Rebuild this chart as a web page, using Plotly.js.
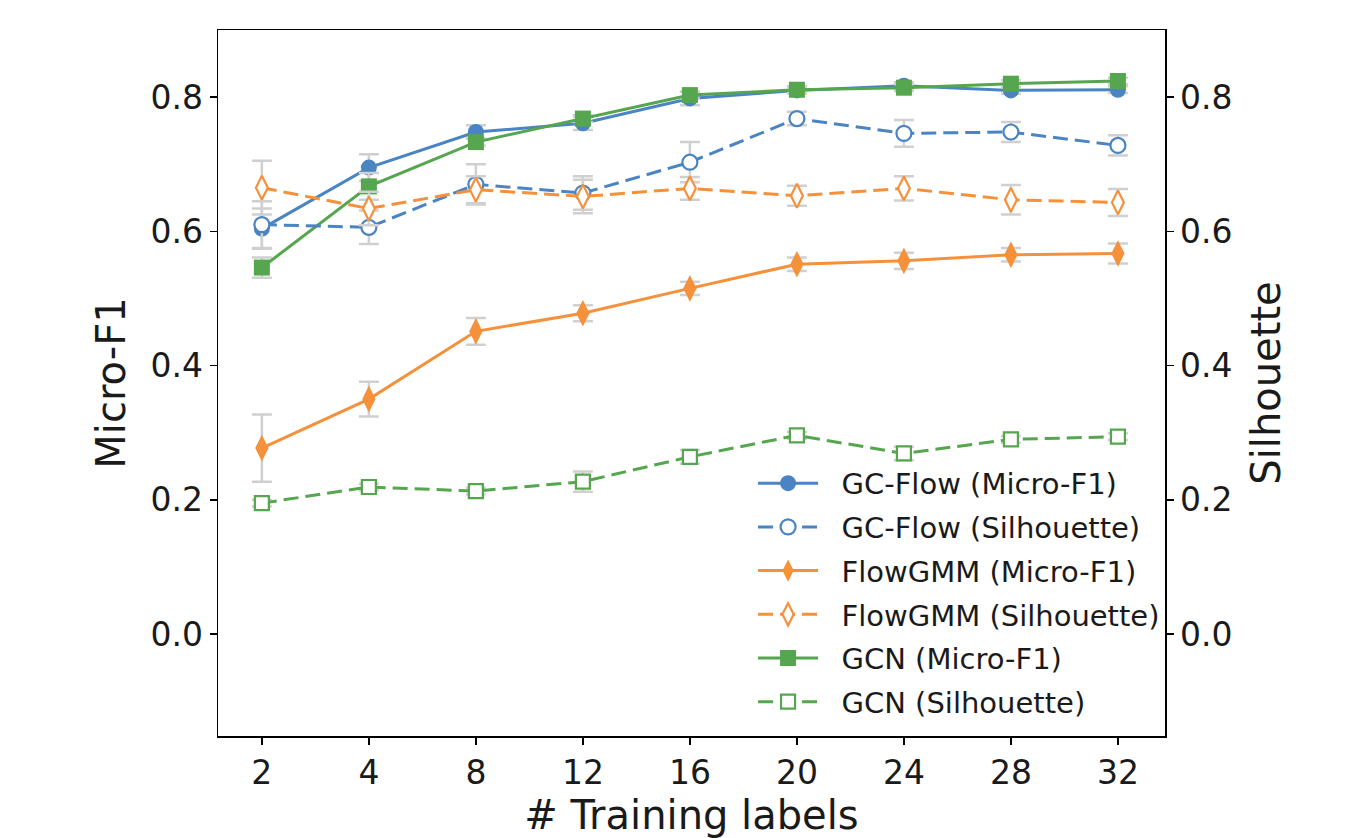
<!DOCTYPE html>
<html>
<head>
<meta charset="utf-8">
<script src="https://cdn.plot.ly/plotly-3.0.1.min.js"></script>
<style>html,body{margin:0;padding:0;background:#fff;}#chart{width:1356px;height:838px;}</style>
</head>
<body>
<div id="chart"></div>
<script>
const labels = ["2","4","8","12","16","20","24","28","32"];

const gcflowF1 = [0.604, 0.695, 0.748, 0.761, 0.798, 0.810, 0.817, 0.810, 0.811];
const gcflowF1Err = [0.03, 0.02, 0.01, 0.01, 0.01, 0.005, 0.005, 0.005, 0.005];
const gcflowSil = [0.610, 0.606, 0.670, 0.657, 0.703, 0.768, 0.746, 0.748, 0.728];
const gcflowSilErr = [0.035, 0.025, 0.03, 0.025, 0.03, 0.01, 0.02, 0.015, 0.015];

const flowgmmF1 = [0.277, 0.350, 0.451, 0.478, 0.515, 0.551, 0.556, 0.565, 0.567];
const flowgmmF1Err = [0.05, 0.026, 0.02, 0.012, 0.01, 0.01, 0.012, 0.01, 0.015];
const flowgmmSil = [0.665, 0.634, 0.662, 0.652, 0.664, 0.653, 0.664, 0.647, 0.643];
const flowgmmSilErr = [0.04, 0.025, 0.02, 0.025, 0.017, 0.015, 0.018, 0.022, 0.02];

const gcnF1 = [0.546, 0.667, 0.733, 0.768, 0.803, 0.811, 0.814, 0.820, 0.824];
const gcnF1Err = [0.015, 0.02, 0.005, 0.005, 0.005, 0.005, 0.005, 0.005, 0.005];
const gcnSil = [0.195, 0.219, 0.213, 0.227, 0.264, 0.296, 0.269, 0.290, 0.294];
const gcnSilErr = [0.005, 0.005, 0.005, 0.015, 0.01, 0.005, 0.01, 0.005, 0.005];

const BLUE = "#4a84c2", ORANGE = "#f5903b", GREEN = "#55a64f", ERR = "#d0d0d0";
const PAD = "\u00a0\u00a0";

function tr(name, y, err, color, symbol, open, dashed, axis, size) {
  return {
    type: "scatter", mode: "lines+markers", name: PAD + name, legendgroup: name,
    x: labels, y: y, yaxis: axis,
    line: {color: color, width: 3, dash: dashed ? "15px,7px" : "solid"},
    marker: {symbol: symbol, size: size, color: open ? "#ffffff" : color,
             line: {color: color, width: open ? 2.2 : 0}},
    error_y: {type: "data", array: err, visible: true, color: ERR, thickness: 2.5, width: 10}
  };
}

const data = [
  tr("GC-Flow (Micro-F1)", gcflowF1, gcflowF1Err, BLUE, "circle", false, false, "y", 16),
  tr("GC-Flow (Silhouette)", gcflowSil, gcflowSilErr, BLUE, "circle", true, true, "y2", 15),
  tr("FlowGMM (Micro-F1)", flowgmmF1, flowgmmF1Err, ORANGE, "diamond-tall", false, false, "y", 19),
  tr("FlowGMM (Silhouette)", flowgmmSil, flowgmmSilErr, ORANGE, "diamond-tall", true, true, "y2", 17),
  tr("GCN (Micro-F1)", gcnF1, gcnF1Err, GREEN, "square", false, false, "y", 16),
  tr("GCN (Silhouette)", gcnSil, gcnSilErr, GREEN, "square", true, true, "y2", 14)
];

const FONT = "DejaVu Sans, sans-serif";
const yTicks = [0, 0.2, 0.4, 0.6, 0.8];
const yTickText = ["0.0", "0.2", "0.4", "0.6", "0.8"];

const axisCommon = {
  showgrid: false, zeroline: false, showline: true, linecolor: "#000", linewidth: 1.5,
  ticks: "outside", ticklen: 7, tickwidth: 1.5, tickcolor: "#000",
  tickfont: {family: FONT, size: 33, color: "#1a1a1a"}
};

const layout = {
  width: 1356, height: 838,
  margin: {l: 218, r: 191, t: 30, b: 102},
  paper_bgcolor: "#fff", plot_bgcolor: "#fff",
  font: {family: FONT, color: "#1a1a1a"},
  showlegend: true,
  xaxis: Object.assign({}, axisCommon, {
    type: "category", range: [-0.41, 8.44], mirror: true,
    title: {text: "# Training labels", font: {family: FONT, size: 40, color: "#1a1a1a"}, standoff: 4}
  }),
  yaxis: Object.assign({}, axisCommon, {
    range: [-0.152, 0.9], tickvals: yTicks, ticktext: yTickText, mirror: true,
    title: {text: "Micro-F1", font: {family: FONT, size: 40, color: "#1a1a1a"}, standoff: 12}
  }),
  yaxis2: Object.assign({}, axisCommon, {
    range: [-0.152, 0.9], tickvals: yTicks, ticktext: yTickText, overlaying: "y", side: "right",
    title: {text: "Silhouette", font: {family: FONT, size: 40, color: "#1a1a1a"}, standoff: 20}
  }),
  legend: {
    x: 0.565, y: 0.394, xanchor: "left", yanchor: "top",
    bgcolor: "rgba(0,0,0,0)", borderwidth: 0,
    font: {family: FONT, size: 29, color: "#1a1a1a"},
    itemwidth: 60, tracegroupgap: 3, traceorder: "grouped"
  }
};

Plotly.newPlot("chart", data, layout, {displayModeBar: false, staticPlot: true});
</script>
</body>
</html>
